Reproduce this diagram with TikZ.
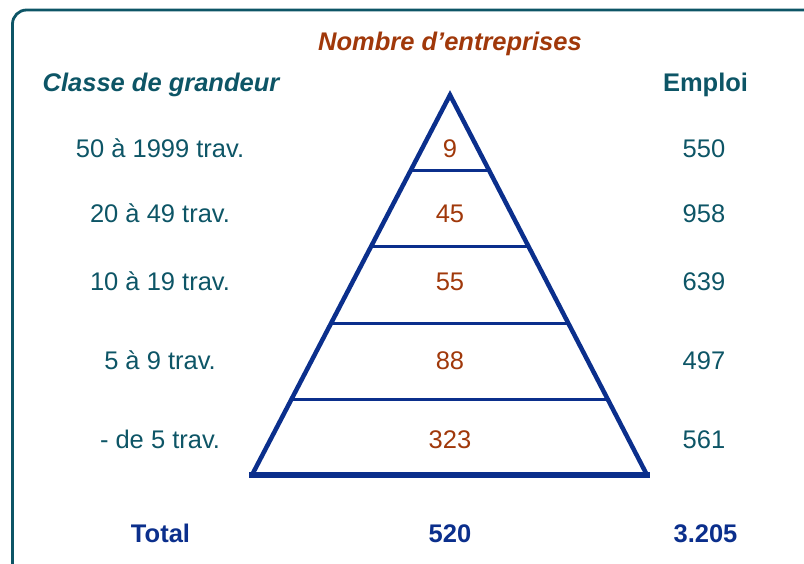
\documentclass[tikz,border=0pt]{standalone}
\usepackage{fontspec}
\setmainfont{Liberation Sans}
\usepackage{tikz}
\usetikzlibrary{calc}
\definecolor{tealtxt}{HTML}{0D5566}
\definecolor{rust}{HTML}{A0380A}
\definecolor{navy}{HTML}{0B2F8C}
\tikzset{
  lbl/.style={anchor=base, inner sep=0pt, font=\fontsize{25.5}{30}\selectfont},
  classe/.style={lbl, text=tealtxt},
  nombre/.style={lbl, text=rust},
  total/.style={lbl, text=navy, font=\fontsize{25.5}{30}\selectfont\bfseries},
}

\begin{document}
\begin{tikzpicture}[x=1pt, y=-1pt]
    \useasboundingbox (0,0) rectangle (804,564);
    % frame, cut by the page on the right and at the bottom
    \begin{scope}
        \clip (0,0) rectangle (804,564);
        \draw[tealtxt, line width=2.8pt, rounded corners=14pt] (12.5,10) rectangle (818,578);
    \end{scope}
    % pyramid
    \coordinate (apex) at (450,95);
    \coordinate (bl) at (252,475);
    \coordinate (br) at (647,475);
    \draw[navy, line width=4.5pt, line join=miter] (bl) -- (apex) -- (br);
    \draw[navy, line width=6pt] ($(bl)+(-3,0)$) -- ($(br)+(3,0)$);
    \foreach \t in {0.2,0.4,0.6,0.8}
        \draw[navy, line width=3pt] ($(apex)!\t!(bl)$) -- ($(apex)!\t!(br)$);
    % headings
    \node[lbl, text=rust, font=\fontsize{25.5}{30}\selectfont\bfseries\itshape] (hdnombre) at (450,51) {Nombre d’entreprises};
    \node[lbl, text=tealtxt, font=\fontsize{25.5}{30}\selectfont\bfseries\itshape] (hdclasse) at (161,92) {Classe de grandeur};
    \node[lbl, text=tealtxt, font=\fontsize{25.5}{30}\selectfont\bfseries] (hdemploi) at (705.5,92) {Emploi};
    % rows
    \foreach \y/\cl/\nb/\em [count=\i] in {158/50 à 1999 trav./9/550, 223/20 à 49 trav./45/958, 291/10 à 19 trav./55/639, 370/5 à 9 trav./88/497, 448/- de 5 trav./323/561} {
        \node[classe] (cl\i) at (160,\y) {\cl};
        \node[nombre] (nb\i) at (450,\y) {\nb};
        \node[classe] (em\i) at (704,\y) {\em};
    }
    % totals
    \node[total] (totlbl) at (160.5,542) {Total};
    \node[total] (totnb) at (450,542) {520};
    \node[total] (totem) at (705.5,542) {3.205};
\end{tikzpicture}
\end{document}
